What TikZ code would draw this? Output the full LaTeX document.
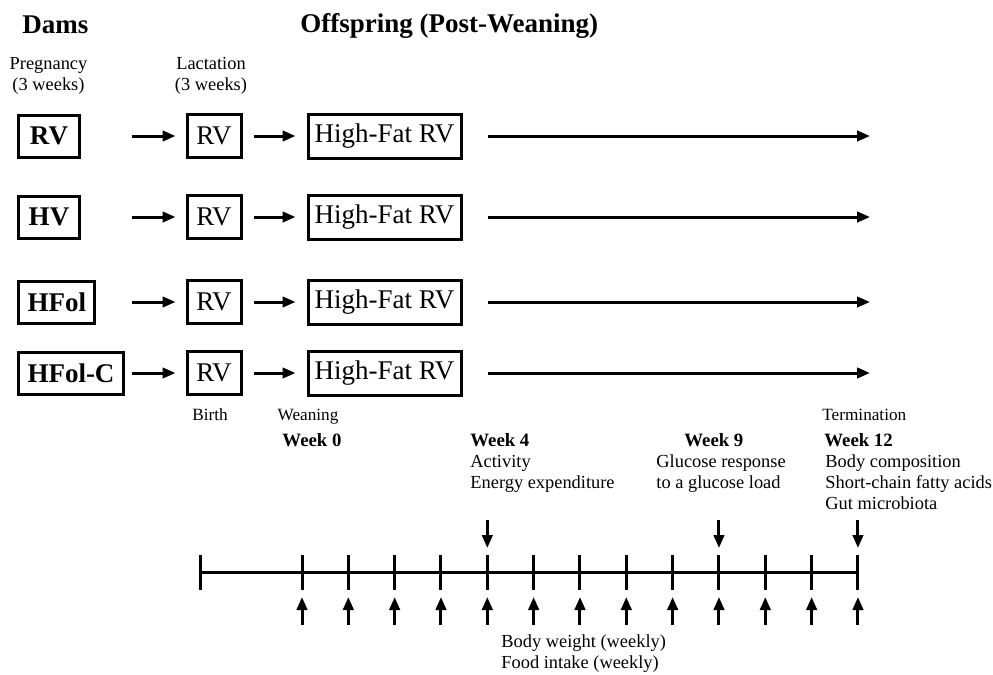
\documentclass[tikz,border=0pt]{standalone}
\usepackage{fontspec}
\setmainfont{Liberation Serif}
\usetikzlibrary{arrows.meta}
\tikzset{>={Triangle[length=6.5pt,width=5.2pt]}}
\tikzset{
    dambox/.style={rectangle,draw,line width=1.5pt,minimum width=30.5pt,minimum height=21pt,inner xsep=4.5pt,font=\fontsize{13.5}{16}\selectfont\bfseries,anchor=west},
    diet/.style={rectangle,draw,line width=1.5pt,minimum height=21.5pt,inner xsep=3pt,font=\fontsize{13.5}{16}\selectfont},
    heading/.style={font=\fontsize{13.5}{16}\selectfont\bfseries,inner sep=0pt,anchor=base west},
    note/.style={font=\fontsize{9.2}{10.5}\selectfont,inner sep=0pt,align=left,anchor=base west},
    stage/.style={font=\fontsize{8.6}{10.5}\selectfont,inner sep=0pt,anchor=base},
    week/.style={note,font=\fontsize{9.4}{10.5}\selectfont\bfseries},
    flow/.style={->,line width=1.5pt},
    axis/.style={line width=1.5pt},
}

\begin{document}
\begin{tikzpicture}[x=0.5pt,y=-0.5pt]
    \useasboundingbox (0,0) rectangle (993,675);
    \node[heading] (dams) at (22,33) {Dams};
    \node[heading] (offspring) at (300,32) {Offspring (Post-Weaning)};
    \node[note,align=center,anchor=base] (preg) at (48.5,90) {Pregnancy\\(3 weeks)};
    \node[note,align=center,anchor=base] (lact) at (211,90) {Lactation\\(3 weeks)};

    \node[dambox] (rv) at (17,136) {RV};
    \node[dambox] (hv) at (17,217) {HV};
    \node[dambox] (hfol) at (17,302) {HFol};
    \node[dambox] (hfolc) at (17,373) {HFol-C};

    \foreach \y/\d in {136/rv,217/hv,302/hfol,373/hfolc} {
        \node[diet,minimum width=27pt] (\d-lac) at (214,\y) {RV};
        \node[diet,minimum width=76.5pt,minimum height=22pt] (\d-hf) at (384.5,\y) {High-Fat RV};
        \coordinate (\d-end) at (870,\y);
        \draw[flow,shorten >=5pt] ([xshift=-27pt]\d-lac.west) -- (\d-lac.west);
        \draw[flow,shorten <=5.5pt,shorten >=5.5pt] (\d-lac) -- (\d-hf);
        \draw[flow,shorten <=12.5pt] (\d-hf) -- (\d-end);
    }

    \node[stage] (birthlbl) at (210,420) {Birth};
    \node[stage] (weanlbl) at (308,420) {Weaning};
    \node[week,anchor=base] (wk0) at (312,446) {Week 0};
    \node[week] (wk4) at (470,446) {Week 4};
    \node[note] (wk4txt) at (470,488) {Activity\\Energy expenditure};
    \node[week] (wk9) at (684,446) {Week 9};
    \node[note] (wk9txt) at (656,488) {Glucose response\\to a glucose load};
    \node[stage,anchor=base west] (term) at (822,420) {Termination};
    \node[week] (wk12) at (824,446) {Week 12};
    \node[note] (wk12txt) at (825,509) {Body composition\\Short-chain fatty acids\\Gut microbiota};

    \coordinate (birth) at (200,572);
    \foreach \i in {0,...,12}
        \coordinate (w\i) at (302+46.33*\i,572);
    \draw[axis] (birth) -- (w12);
    \draw[axis] ([yshift=8.5pt]birth) -- ([yshift=-9pt]birth);
    \foreach \i in {0,...,12} {
        \draw[axis] ([yshift=8.5pt]w\i) -- ([yshift=-9pt]w\i);
        \draw[flow] ([yshift=-26.5pt]w\i) -- ([yshift=-12.5pt]w\i);
    }
    \foreach \i in {4,9,12}
        \draw[flow] ([yshift=26pt]w\i) -- ([yshift=12pt]w\i);
    \node[note] (bw) at (501,668) {Body weight (weekly)\\Food intake (weekly)};
\end{tikzpicture}
\end{document}
